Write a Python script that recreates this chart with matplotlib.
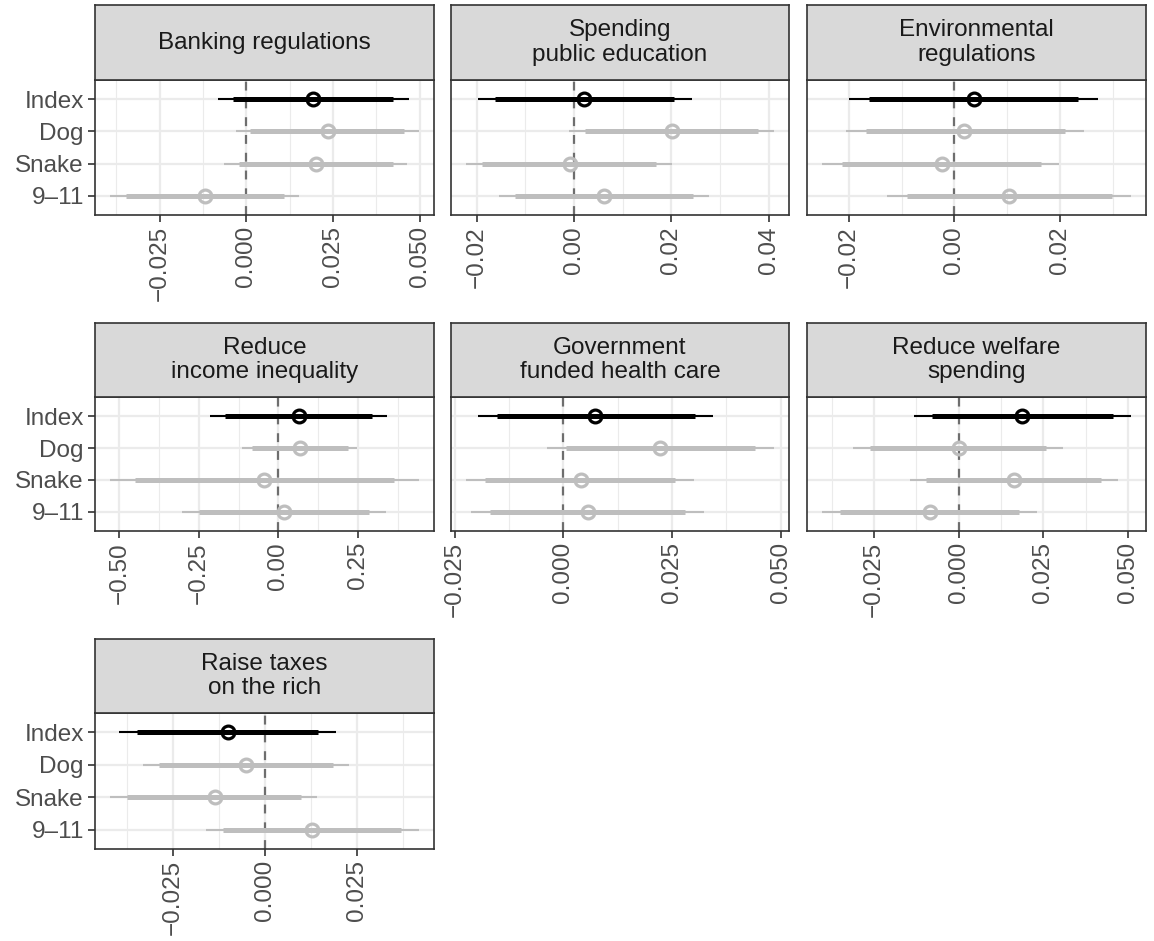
import matplotlib
matplotlib.use("Agg")
import matplotlib.pyplot as plt
from matplotlib.ticker import MultipleLocator, AutoMinorLocator, FuncFormatter

plt.rcParams["font.family"] = ["Liberation Sans", "DejaVu Sans"]

topics = [
    "Banking regulations",
    "Spending\npublic education",
    "Environmental\nregulations",
    "Reduce\nincome inequality",
    "Government\nfunded health care",
    "Reduce welfare\nspending",
    "Raise taxes\non the rich",
]
groups = ["Index", "Dog", "Snake", "9–11"]

# point estimates, rows: Index, Dog, Snake, 9-11
est = [
    [0.0191, 0.0237, 0.0201, -0.0119],
    [0.0021, 0.0201, -0.0008, 0.0062],
    [0.0037, 0.0019, -0.0023, 0.0103],
    [0.065, 0.068, -0.044, 0.018],
    [0.0074, 0.0223, 0.0040, 0.0056],
    [0.0188, 0.0000, 0.0164, -0.0085],
    [-0.0102, -0.0053, -0.0136, 0.0127],
]
# inner interval
lo_in = [
    [-0.0039, 0.0012, -0.0021, -0.0347],
    [-0.0162, 0.0023, -0.0188, -0.0121],
    [-0.0161, -0.0168, -0.0213, -0.0090],
    [-0.169, -0.084, -0.450, -0.251],
    [-0.0152, 0.0006, -0.0180, -0.0168],
    [-0.0078, -0.0262, -0.0095, -0.0350],
    [-0.0349, -0.0290, -0.0376, -0.0115],
]
hi_in = [
    [0.0424, 0.0455, 0.0424, 0.0110],
    [0.0205, 0.0377, 0.0169, 0.0244],
    [0.0235, 0.0209, 0.0164, 0.0298],
    [0.296, 0.219, 0.364, 0.285],
    [0.0302, 0.0442, 0.0257, 0.0279],
    [0.0456, 0.0258, 0.0420, 0.0179],
    [0.0145, 0.0184, 0.0098, 0.0371],
]
# outer interval
lo_out = [
    [-0.0082, -0.0029, -0.0064, -0.0392],
    [-0.0198, -0.0010, -0.0221, -0.0154],
    [-0.0199, -0.0206, -0.0250, -0.0127],
    [-0.214, -0.113, -0.528, -0.303],
    [-0.0196, -0.0037, -0.0223, -0.0212],
    [-0.0132, -0.0311, -0.0145, -0.0402],
    [-0.0397, -0.0333, -0.0421, -0.0161],
]
hi_out = [
    [0.0468, 0.0497, 0.0464, 0.0153],
    [0.0242, 0.0410, 0.0201, 0.0277],
    [0.0273, 0.0245, 0.0199, 0.0334],
    [0.342, 0.247, 0.441, 0.338],
    [0.0345, 0.0484, 0.0301, 0.0324],
    [0.0507, 0.0307, 0.0469, 0.0230],
    [0.0192, 0.0229, 0.0142, 0.0418],
]
tick_step = [0.025, 0.02, 0.02, 0.25, 0.025, 0.025, 0.025]
tick_dec = [3, 2, 2, 2, 3, 3, 3]


def make_fmt(d):
    def f(v, pos):
        s = f"{v:.{d}f}"
        if float(s) == 0:
            s = s.lstrip("-")
        return s.replace("-", "\u2212")
    return FuncFormatter(f)


W, H = 1154, 941
fig = plt.figure(figsize=(W / 100, H / 100), dpi=100)

col_x = [(95, 434), (451, 789), (807, 1146)]
row_y = [(5, 80, 215), (323, 397, 531), (639, 713, 849)]

border = "#333333"
fs = 17.5
for i, topic in enumerate(topics):
    r, c = divmod(i, 3)
    x0, x1 = col_x[c]
    ys, yt, yb = row_y[r]
    ax = fig.add_axes([x0 / W, 1 - yb / H, (x1 - x0) / W, (yb - yt) / H])
    st = fig.add_axes([x0 / W, 1 - yt / H, (x1 - x0) / W, (yt - ys) / H])

    # strip
    st.set_facecolor("#D9D9D9")
    st.set_xticks([])
    st.set_yticks([])
    for s in st.spines.values():
        s.set_color(border)
        s.set_linewidth(1.2)
    st.text(0.5, 0.5, topic, ha="center", va="center", fontsize=fs,
            color="#1A1A1A", linespacing=1.15, transform=st.transAxes)

    ax.set_axisbelow(True)
    ax.axvline(0, color="#6E6E6E", lw=1.6, ls=(0, (4, 4)), zorder=1.5)
    for j, g in enumerate(groups):
        y = len(groups) - j
        col = "black" if j == 0 else "#BEBEBE"
        z = 4 if j == 0 else 3
        ax.hlines(y, lo_out[i][j], hi_out[i][j], color=col, lw=1.5, zorder=z)
        ax.hlines(y, lo_in[i][j], hi_in[i][j], color=col, lw=3.6, zorder=z)
        ax.plot(est[i][j], y, "o", mfc="none", mec=col, ms=9.2, mew=2.3, zorder=z)

    lo = min(lo_out[i])
    hi = max(hi_out[i])
    rng = hi - lo
    ax.set_xlim(lo - 0.05 * rng, hi + 0.05 * rng)
    ax.set_ylim(0.4, len(groups) + 0.6)

    ax.xaxis.set_major_locator(MultipleLocator(tick_step[i]))
    ax.xaxis.set_minor_locator(AutoMinorLocator(2))
    ax.xaxis.set_major_formatter(make_fmt(tick_dec[i]))
    ax.set_yticks(range(1, len(groups) + 1))
    ax.set_yticklabels(groups[::-1])

    ax.grid(which="major", axis="both", color="#EBEBEB", lw=1.6)
    ax.grid(which="minor", axis="x", color="#EBEBEB", lw=0.8)

    ax.tick_params(axis="x", which="major", length=5, width=1.2, color=border,
                   pad=3, labelsize=fs, labelcolor="#4D4D4D", labelrotation=90)
    ax.tick_params(axis="x", which="minor", length=0)
    if c == 0:
        ax.tick_params(axis="y", length=5, width=1.2, color=border, pad=3,
                       labelsize=fs, labelcolor="#4D4D4D")
    else:
        ax.tick_params(axis="y", length=0, labelleft=False)
    for s in ax.spines.values():
        s.set_color(border)
        s.set_linewidth(1.2)

fig.savefig("out.png", dpi=100, facecolor="white")
